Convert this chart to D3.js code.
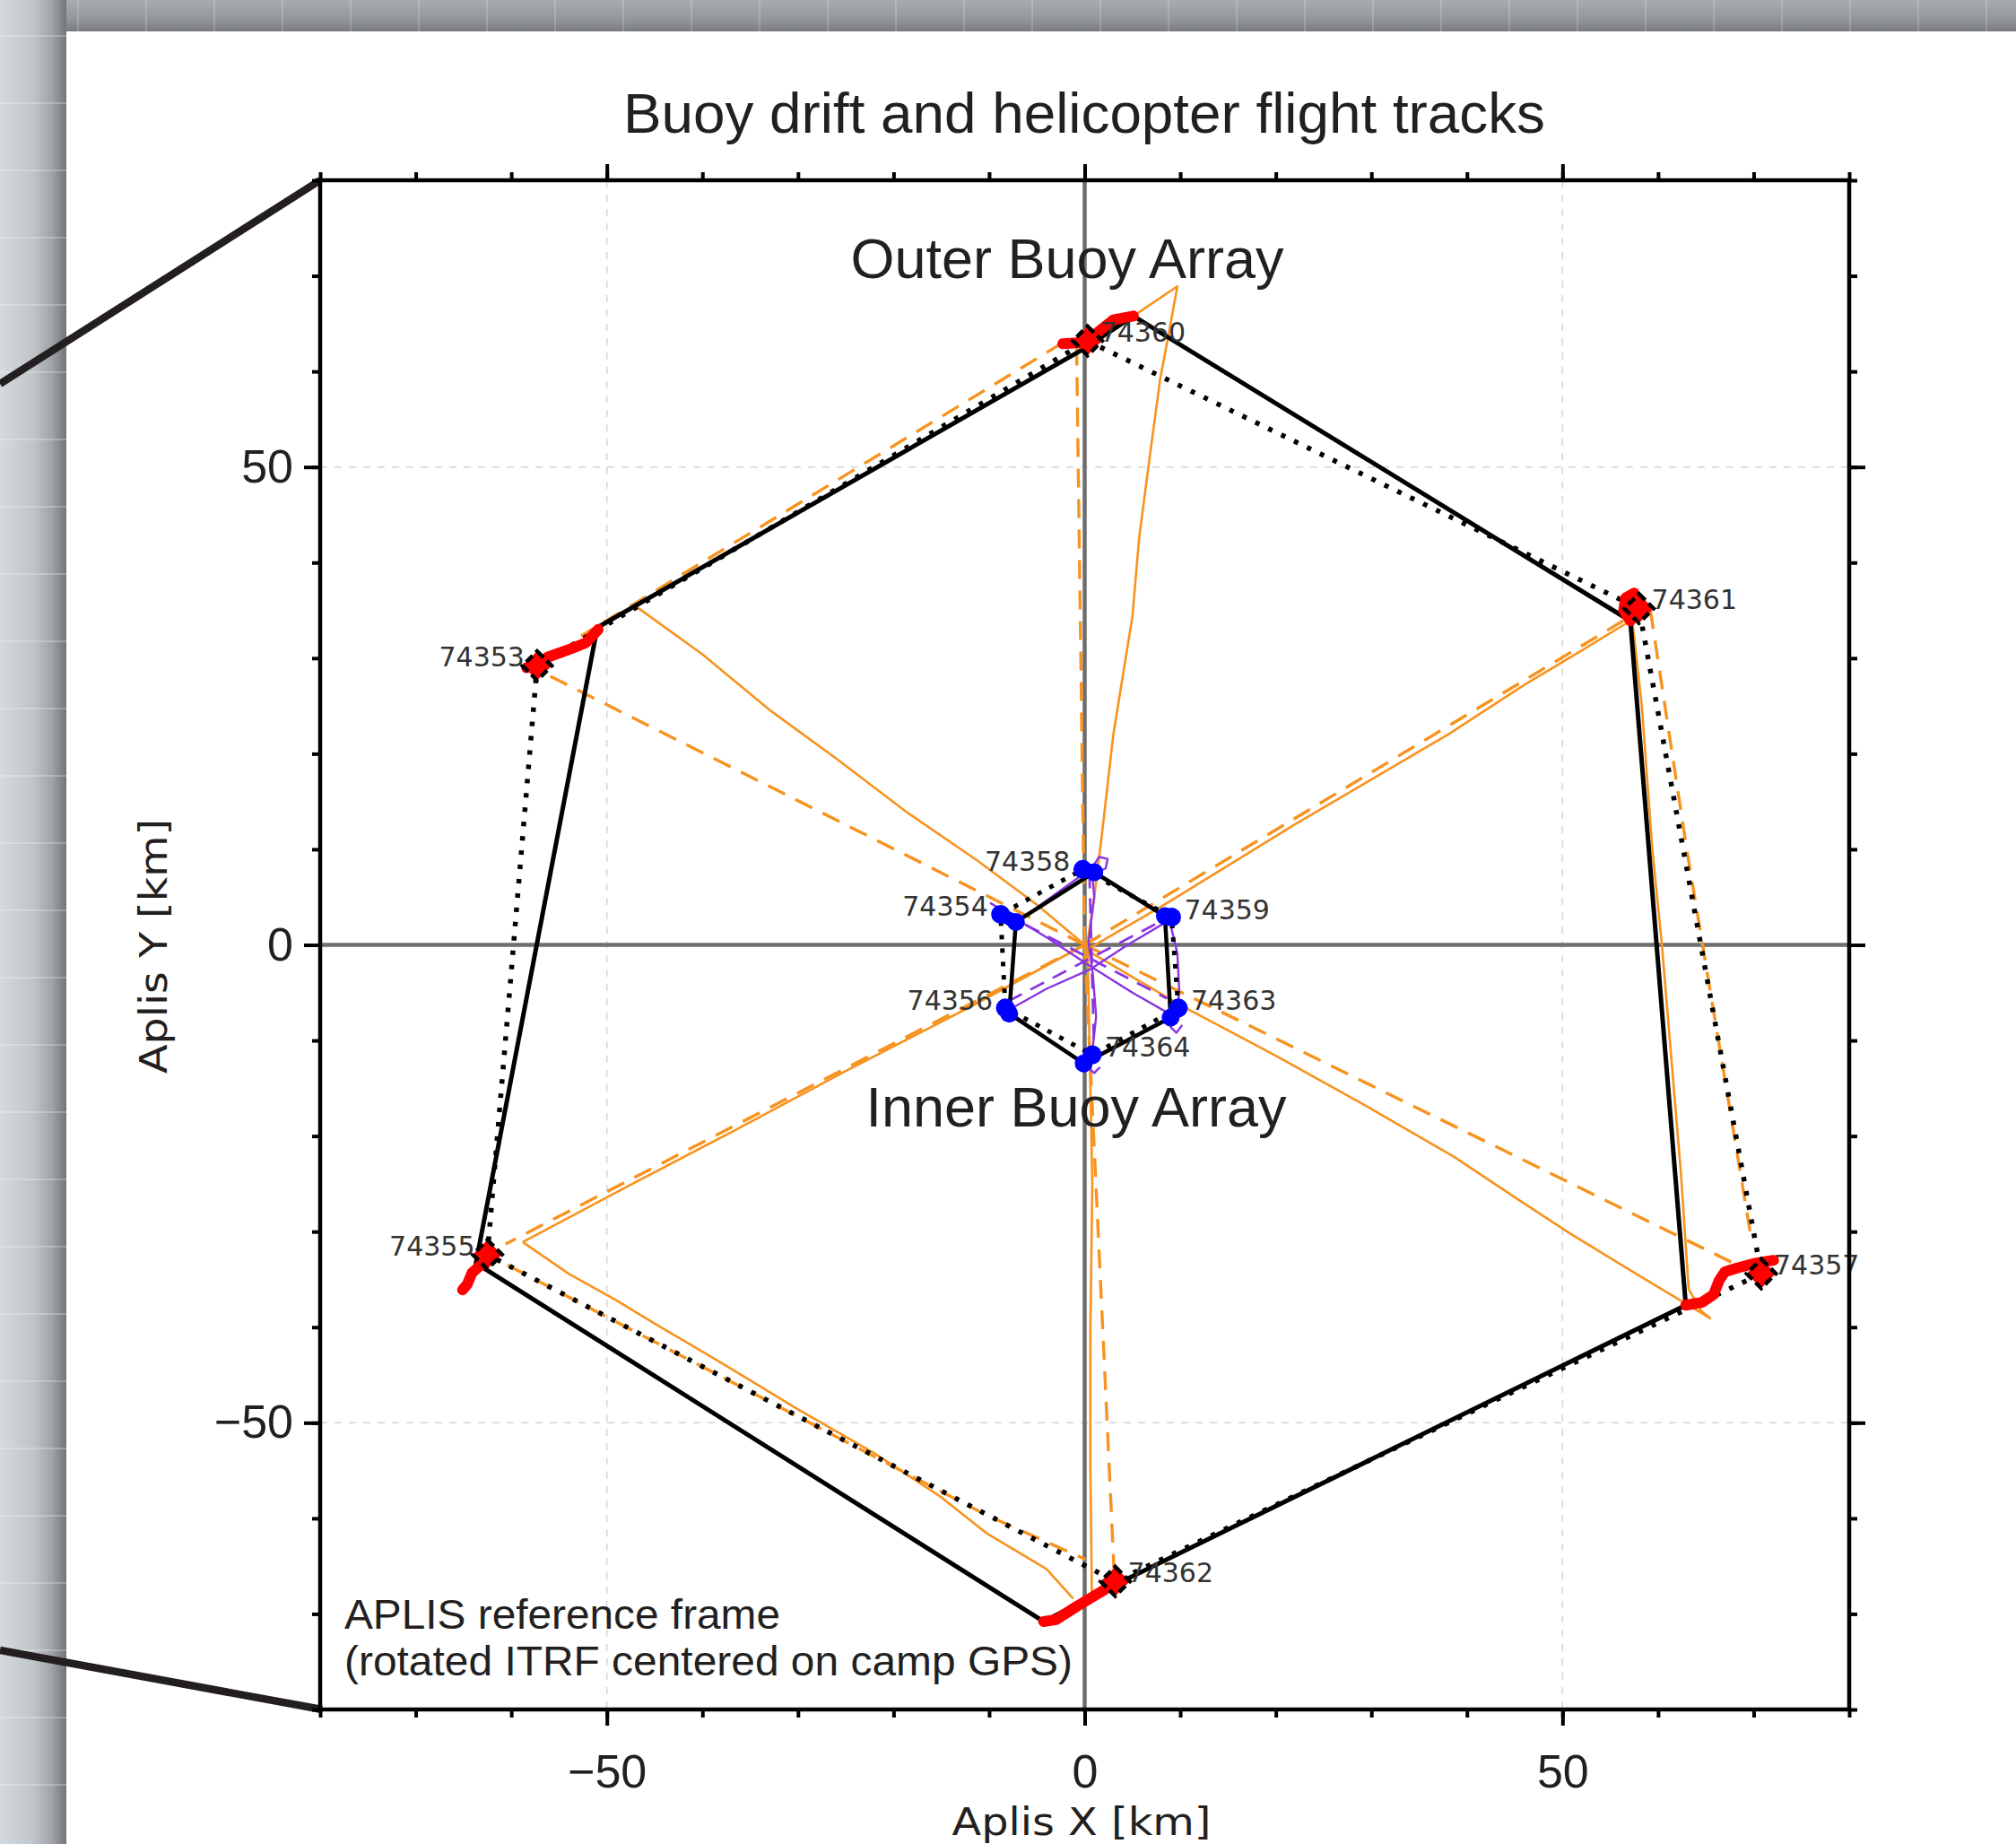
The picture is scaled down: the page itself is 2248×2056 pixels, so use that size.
<!DOCTYPE html>
<html>
<head>
<meta charset="utf-8">
<script src="https://cdn.jsdelivr.net/npm/d3@7"></script>
<style>
body{margin:0;background:#fff;}
svg{display:block;}
</style>
</head>
<body>
<script>
// canvas size
var outerWidth = 2248;
var outerHeight = 2056;

// axis ticks
var minorTicks = d3.range(-80, 81, 10);
var majorTicks = [-50, 0, 50];
var gridTicks = [-50, 50];

// outer buoys (km)
var outerIds = ["74360", "74361", "74357", "74362", "74355", "74353"];
var outerSide = ["right", "right", "right", "right", "left", "left"];
var outerEnd = [[0.3, 63.2], [58.0, 35.2], [70.8, -34.4], [3.2, -66.6], [-62.5, -32.4], [-57.3, 29.2]];
var outerOutline = [[-0.2, 62.3], [5.1, 65.8], [57.1, 33.9], [62.9, -37.7], [2.9, -67.1], [-4.3, -70.8], [-63.7, -33.3], [-51.0, 33.2]];
var outerTracks = [
  [[-2.3, 62.9], [-0.8, 63.0], [0.3, 63.2], [1.5, 64.2], [3.0, 65.4], [5.1, 65.8]],
  [[57.1, 33.9], [56.4, 35.0], [56.6, 36.3], [57.5, 36.8], [58.0, 35.2]],
  [[62.9, -37.7], [64.6, -37.4], [65.8, -36.6], [66.4, -35.1], [67.0, -34.2], [68.3, -33.8], [70.2, -33.3], [72.1, -33.0]],
  [[-4.3, -70.8], [-3.0, -70.6], [-0.8, -69.2], [1.7, -67.7], [2.9, -66.9], [3.2, -66.6]],
  [[-62.5, -32.4], [-63.3, -33.6], [-64.1, -34.3], [-64.6, -35.5], [-65.1, -36.1]],
  [[-58.4, 29.0], [-57.3, 29.2], [-56.2, 30.1], [-53.7, 31.0], [-52.2, 31.6], [-50.9, 33.0]]
];

// inner buoys (km)
var innerIds = ["74358", "74359", "74363", "74364", "74356", "74354"];
var innerSide = ["left", "right", "right", "right", "left", "left"];
var innerStart = [[1.0, 7.6], [8.4, 3.0], [9.0, -7.6], [-0.1, -12.4], [-7.9, -7.2], [-7.2, 2.4]];
var innerEnd = [[-0.2, 7.9], [9.1, 2.9], [9.8, -6.6], [0.8, -11.5], [-8.3, -6.6], [-8.8, 3.2]];

// helicopter flight tracks, outer array (km)
var flightSolid = [
  [[0.3, 0.3], [1.0, 5], [1.8, 11.5], [3.0, 22], [5.0, 34.4], [5.7, 42.6], [6.8, 51], [7.9, 59.2], [8.8, 64], [9.7, 68.9], [5.1, 65.8]],
  [[-46.8, 35.3], [-40, 30.4], [-33, 24.6], [-26, 19.5], [-18.5, 13.8], [-11.2, 8.8], [-5, 4.2], [0, 0]],
  [[0.4, -0.4], [8, 4], [15, 8.3], [22, 12.6], [30, 17.3], [38, 22], [46, 27.2], [52, 30.8], [57.1, 33.9]],
  [[57.3, 34.0], [58.3, 25], [59.4, 10], [60.4, 0], [61.4, -12], [62.4, -24], [63.2, -36], [64.5, -38.3], [65.5, -39.1]],
  [[0.3, -0.6], [10, -6.3], [20, -11.6], [29, -16.6], [38.7, -22.2], [45, -26.4], [50.8, -30.2], [58, -34.6], [65.5, -39.1]],
  [[0.3, 0], [0.5, -10], [0.8, -25], [0.6, -40], [0.6, -55], [0.75, -67.8]],
  [[-58.8, -31.1], [-54.0, -34.4], [-49, -37.2], [-44.7, -39.8], [-38.4, -43.5], [-30, -48.6], [-22, -53.2], [-15, -57.8], [-10.2, -61.6], [-4, -65.3], [-1.2, -68.4]],
  [[0, 0], [-12, -6.5], [-25, -13.2], [-36.8, -19.5], [-47.5, -25.1], [-58.8, -31.1]]
];
var flightDashed = [
  [[0, 0], [-0.85, 63.0]],
  [[0, 0], [57.5, 34.6]],
  [[0, 0], [68.3, -33.5]],
  [[0, 0], [3.1, -66.0]],
  [[0, 0], [-60.6, -31.3]],
  [[0, 0], [-56.5, 28.4]],
  [[-2.3, 63.0], [-52.7, 32.3]],
  [[59.2, 35.0], [63.0, 10.0], [69.8, -31.0]],
  [[-60.4, -33.5], [-10.2, -59.7], [0.1, -64.3]]
];

// helicopter flight tracks, inner array (km)
var innerSolid = [
  [[-9.9, 4.4], [-7.3, 2.8], [-4, 0.8], [0.4, -2.1], [5, -5], [9.2, -7.4]],
  [[0.75, 8.0], [1.0, 5.0], [0.4, 0.3], [0.85, -3.1], [1.2, -7.5], [0.75, -11.6]],
  [[-8.1, -6.9], [-4, -4.6], [0.5, -2.6], [4.5, 0], [8.7, 2.5]],
  [[0, 7.5], [-3.5, 5], [-7.3, 2.2]],
  [[8.9, 2.5], [9.7, -0.9], [9.9, -4.9], [9.6, -7.5]],
  [[0.75, 8.0], [1.5, 9.2], [2.4, 9.0], [2.2, 8.0], [1.2, 7.6]],
  [[9.6, -7.5], [9.0, -8.6], [9.6, -9.2], [10.2, -8.4]],
  [[0.75, -11.6], [0.3, -12.8], [1.0, -13.4], [1.6, -12.8]]
];
var innerDashed = [
  [[-8.0, -5.9], [8.6, 2.8]],
  [[-8.5, 3.3], [8.6, -5.6]],
  [[0.5, 7.5], [1.0, -11.5]],
  [[-7.5, -7.3], [0, -12.5]]
];

// page chrome
var bgCols = d3.range(87, 2248, 76);
var bgRows = d3.range(40, 2056, 75);

var svg = d3.select("body").append("svg")
  .attr("width", outerWidth)
  .attr("height", outerHeight);

var defs = svg.append("defs");
var lg = defs.append("linearGradient").attr("id", "leftGrad").attr("x1", 0).attr("x2", 1).attr("y1", 0).attr("y2", 0);
lg.append("stop").attr("offset", 0).attr("stop-color", "#d4dade");
lg.append("stop").attr("offset", 0.5).attr("stop-color", "#c0c5c9");
lg.append("stop").attr("offset", 0.78).attr("stop-color", "#a0a4a8");
lg.append("stop").attr("offset", 1).attr("stop-color", "#727578");
var tg = defs.append("linearGradient").attr("id", "topGrad").attr("x1", 0).attr("x2", 0).attr("y1", 0).attr("y2", 1);
tg.append("stop").attr("offset", 0).attr("stop-color", "#a9acaf");
tg.append("stop").attr("offset", 0.6).attr("stop-color", "#95989b");
tg.append("stop").attr("offset", 1).attr("stop-color", "#797b7e");

svg.append("rect").attr("width", outerWidth).attr("height", 35).attr("fill", "url(#topGrad)");
svg.append("rect").attr("width", 74).attr("height", outerHeight).attr("fill", "url(#leftGrad)");
svg.selectAll(".bgc").data(bgCols).enter().append("line")
  .attr("x1", d => d).attr("x2", d => d).attr("y1", 0).attr("y2", 35)
  .attr("stroke", "#fff").attr("stroke-opacity", 0.18).attr("stroke-width", 2);
svg.selectAll(".bgr").data(bgRows).enter().append("line")
  .attr("x1", 0).attr("x2", 74).attr("y1", d => d).attr("y2", d => d)
  .attr("stroke", "#fff").attr("stroke-opacity", 0.25).attr("stroke-width", 2);
svg.append("rect").attr("x", 74).attr("y", 35).attr("width", outerWidth - 74).attr("height", outerHeight - 35).attr("fill", "#fff");

//Create scale
var xScale = d3.scaleLinear().domain([-80, 80]).range([357, 2062]);
var yScale = d3.scaleLinear().domain([-80, 80]).range([1906, 201]);

var trackLine = d3.line().x(d => xScale(d[0])).y(d => yScale(d[1]));
var ringLine = d3.line().x(d => xScale(d[0])).y(d => yScale(d[1])).curve(d3.curveLinearClosed);

// zoom callout lines
svg.append("line").attr("x1", 0).attr("y1", 428).attr("x2", xScale(-80)).attr("y2", yScale(80))
  .attr("stroke", "#231f20").attr("stroke-width", 8.5);
svg.append("line").attr("x1", 0).attr("y1", 1840).attr("x2", xScale(-80) + 2).attr("y2", yScale(-80))
  .attr("stroke", "#231f20").attr("stroke-width", 8.5);

var plot = svg.append("g");

// grid
plot.selectAll(".gx").data(gridTicks).enter().append("line")
  .attr("x1", d => xScale(d)).attr("x2", d => xScale(d)).attr("y1", yScale(80)).attr("y2", yScale(-80))
  .attr("stroke", "#d4d4d4").attr("stroke-width", 1.5).attr("stroke-dasharray", "8,8");
plot.selectAll(".gy").data(gridTicks).enter().append("line")
  .attr("y1", d => yScale(d)).attr("y2", d => yScale(d)).attr("x1", xScale(-80)).attr("x2", xScale(80))
  .attr("stroke", "#d4d4d4").attr("stroke-width", 1.5).attr("stroke-dasharray", "8,8");
// zero lines
plot.append("line").attr("x1", xScale(0)).attr("x2", xScale(0)).attr("y1", yScale(80)).attr("y2", yScale(-80))
  .attr("stroke", "#6e6e6e").attr("stroke-width", 4.5);
plot.append("line").attr("y1", yScale(0)).attr("y2", yScale(0)).attr("x1", xScale(-80)).attr("x2", xScale(80))
  .attr("stroke", "#6e6e6e").attr("stroke-width", 4.5);

var orange = "#f7931e";
var purple = "#8a35e0";

plot.selectAll(".fs").data(flightSolid).enter().append("path")
  .attr("d", trackLine).attr("fill", "none").attr("stroke", orange).attr("stroke-width", 2.6)
  .attr("stroke-linejoin", "round");
plot.selectAll(".fd").data(flightDashed).enter().append("path")
  .attr("d", trackLine).attr("fill", "none").attr("stroke", orange).attr("stroke-width", 3.4)
  .attr("stroke-dasharray", "21,13");
plot.selectAll(".is").data(innerSolid).enter().append("path")
  .attr("d", trackLine).attr("fill", "none").attr("stroke", purple).attr("stroke-width", 2.4)
  .attr("stroke-linejoin", "round");
plot.selectAll(".id").data(innerDashed).enter().append("path")
  .attr("d", trackLine).attr("fill", "none").attr("stroke", purple).attr("stroke-width", 2.8)
  .attr("stroke-dasharray", "17,11");

// outer array outlines
plot.append("path").attr("d", ringLine(outerOutline)).attr("fill", "none")
  .attr("stroke", "#000").attr("stroke-width", 5).attr("stroke-linejoin", "round");
plot.append("path").attr("d", ringLine(outerEnd)).attr("fill", "none")
  .attr("stroke", "#000").attr("stroke-width", 5.5).attr("stroke-dasharray", "5,11");
// inner array outlines
plot.append("path").attr("d", ringLine(innerStart)).attr("fill", "none")
  .attr("stroke", "#000").attr("stroke-width", 4.5).attr("stroke-linejoin", "round");
plot.append("path").attr("d", ringLine(innerEnd)).attr("fill", "none")
  .attr("stroke", "#000").attr("stroke-width", 5).attr("stroke-dasharray", "5,10");

// drift tracks
plot.selectAll(".rt").data(outerTracks).enter().append("path")
  .attr("d", trackLine).attr("fill", "none").attr("stroke", "#ff0000").attr("stroke-width", 12)
  .attr("stroke-linecap", "round").attr("stroke-linejoin", "round");
plot.selectAll(".bt").data(innerIds).enter().append("line")
  .attr("x1", (d, i) => xScale(innerStart[i][0])).attr("y1", (d, i) => yScale(innerStart[i][1]))
  .attr("x2", (d, i) => xScale(innerEnd[i][0])).attr("y2", (d, i) => yScale(innerEnd[i][1]))
  .attr("stroke", "#0000ff").attr("stroke-width", 15).attr("stroke-linecap", "round");
plot.selectAll(".bs").data(innerStart).enter().append("circle")
  .attr("cx", d => xScale(d[0])).attr("cy", d => yScale(d[1])).attr("r", 10).attr("fill", "#0000ff");
plot.selectAll(".be").data(innerEnd).enter().append("circle")
  .attr("cx", d => xScale(d[0])).attr("cy", d => yScale(d[1])).attr("r", 10.5).attr("fill", "#0000ff");

// diamonds
plot.selectAll(".dm").data(outerEnd).enter().append("rect")
  .attr("x", -11.5).attr("y", -11.5).attr("width", 23).attr("height", 23)
  .attr("transform", d => "translate(" + xScale(d[0]) + "," + yScale(d[1]) + ") rotate(45)")
  .attr("fill", "#ff0000").attr("stroke", "#000").attr("stroke-width", 4.5)
  .attr("stroke-dasharray", "10,5");

// buoy labels
function addLabels(ids, pos, side, dy) {
  plot.selectAll(null).data(ids).enter().append("text")
    .attr("x", (d, i) => xScale(pos[i][0]) + (side[i] === "left" ? -14 : 14))
    .attr("y", (d, i) => yScale(pos[i][1]) + dy)
    .attr("text-anchor", (d, i) => side[i] === "left" ? "end" : "start")
    .attr("font-family", "DejaVu Sans, sans-serif").attr("font-size", 30)
    .attr("fill", "#333")
    .text(d => d);
}
addLabels(outerIds, outerEnd, outerSide, 1);
addLabels(innerIds, innerEnd, innerSide, 2);

// axes
function styleAxis(g) {
  g.select(".domain").remove();
  g.selectAll(".tick line").attr("stroke", "#000").attr("stroke-width", 4);
  g.selectAll(".tick text").attr("font-family", "Liberation Sans, Arial, sans-serif")
    .attr("font-size", 52).attr("fill", "#231f20");
}
var axes = svg.append("g");
axes.append("g").attr("transform", "translate(0," + yScale(-80) + ")")
  .call(d3.axisBottom(xScale).tickValues(minorTicks).tickSize(9).tickFormat("")).call(styleAxis);
axes.append("g").attr("transform", "translate(0," + yScale(-80) + ")")
  .call(d3.axisBottom(xScale).tickValues(majorTicks).tickSize(18).tickPadding(32)).call(styleAxis);
axes.append("g").attr("transform", "translate(0," + yScale(80) + ")")
  .call(d3.axisTop(xScale).tickValues(minorTicks).tickSize(9).tickFormat("")).call(styleAxis);
axes.append("g").attr("transform", "translate(0," + yScale(80) + ")")
  .call(d3.axisTop(xScale).tickValues(majorTicks).tickSize(18).tickFormat("")).call(styleAxis);
axes.append("g").attr("transform", "translate(" + xScale(-80) + ",0)")
  .call(d3.axisLeft(yScale).tickValues(minorTicks).tickSize(9).tickFormat("")).call(styleAxis);
axes.append("g").attr("transform", "translate(" + xScale(-80) + ",0)")
  .call(d3.axisLeft(yScale).tickValues(majorTicks).tickSize(18).tickPadding(12)).call(styleAxis);
axes.append("g").attr("transform", "translate(" + xScale(80) + ",0)")
  .call(d3.axisRight(yScale).tickValues(minorTicks).tickSize(9).tickFormat("")).call(styleAxis);
axes.append("g").attr("transform", "translate(" + xScale(80) + ",0)")
  .call(d3.axisRight(yScale).tickValues(majorTicks).tickSize(18).tickFormat("")).call(styleAxis);

// frame
axes.append("rect").attr("x", xScale(-80)).attr("y", yScale(80))
  .attr("width", xScale(80) - xScale(-80)).attr("height", yScale(-80) - yScale(80))
  .attr("fill", "none").attr("stroke", "#000").attr("stroke-width", 4.5);

// texts
var narrow = "Liberation Sans Narrow, Arial Narrow, Liberation Sans, sans-serif";
svg.append("text").attr("x", 1209).attr("y", 148).attr("text-anchor", "middle")
  .attr("font-family", narrow).attr("font-size", 63).attr("fill", "#231f20")
  .attr("textLength", 1028).attr("lengthAdjust", "spacingAndGlyphs")
  .text("Buoy drift and helicopter flight tracks");
svg.append("text").attr("x", 1190).attr("y", 310).attr("text-anchor", "middle")
  .attr("font-family", "Liberation Sans, Arial, sans-serif").attr("font-size", 63).attr("fill", "#231f20")
  .text("Outer Buoy Array");
svg.append("text").attr("x", 1200).attr("y", 1256).attr("text-anchor", "middle")
  .attr("font-family", "Liberation Sans, Arial, sans-serif").attr("font-size", 63).attr("fill", "#231f20")
  .text("Inner Buoy Array");
svg.append("text").attr("x", 384).attr("y", 1816)
  .attr("font-family", narrow).attr("font-size", 46).attr("fill", "#231f20")
  .attr("textLength", 486).attr("lengthAdjust", "spacingAndGlyphs")
  .text("APLIS reference frame");
svg.append("text").attr("x", 384).attr("y", 1868)
  .attr("font-family", narrow).attr("font-size", 46).attr("fill", "#231f20")
  .attr("textLength", 812).attr("lengthAdjust", "spacingAndGlyphs")
  .text("(rotated ITRF centered on camp GPS)");
svg.append("text").attr("x", 1206).attr("y", 2046).attr("text-anchor", "middle")
  .attr("font-family", "DejaVu Sans, sans-serif").attr("font-size", 42).attr("fill", "#231f20")
  .attr("textLength", 289).attr("lengthAdjust", "spacingAndGlyphs")
  .text("Aplis X [km]");
svg.append("text").attr("transform", "translate(186,1055) rotate(-90)").attr("text-anchor", "middle")
  .attr("font-family", "DejaVu Sans, sans-serif").attr("font-size", 42).attr("fill", "#231f20")
  .attr("textLength", 284).attr("lengthAdjust", "spacingAndGlyphs")
  .text("Aplis Y [km]");
</script>
</body>
</html>
